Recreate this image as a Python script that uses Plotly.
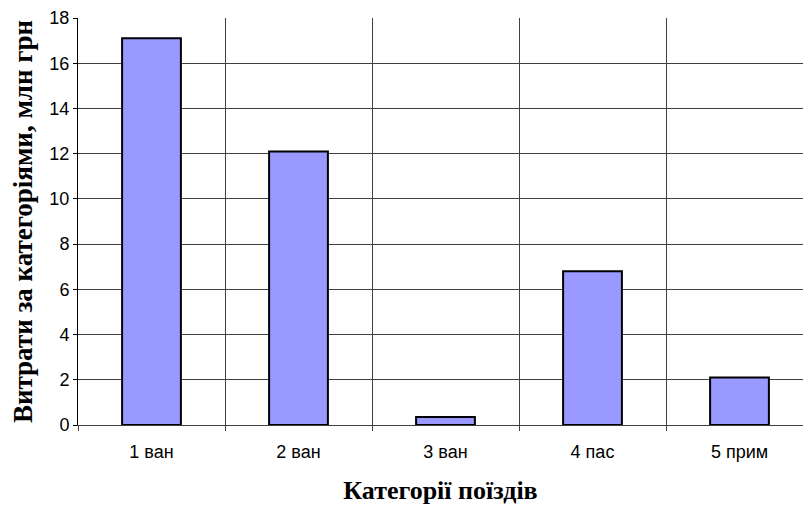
import plotly.graph_objects as go

# Витрати за категоріями поїздів, млн грн
categories = ["1 ван", "2 ван", "3 ван", "4 пас", "5 прим"]
costs = [17.1, 12.1, 0.35, 6.8, 2.1]
y_ticks = [0, 2, 4, 6, 8, 10, 12, 14, 16, 18]

fig = go.Figure(
    go.Bar(
        x=categories,
        y=costs,
        width=0.4,
        marker=dict(color="#9999FF", line=dict(color="#000000", width=2)),
    )
)

grid = "#404040"
serif = "Liberation Serif, Times New Roman, serif"
fig.update_layout(
    width=803,
    height=508,
    margin=dict(l=78, r=0, t=18, b=83),
    paper_bgcolor="white",
    plot_bgcolor="white",
    showlegend=False,
    font=dict(family="Liberation Sans, Arial, sans-serif", size=18, color="#000000"),
)

fig.update_xaxes(
    type="category",
    range=[-0.5, 4.432],
    tickson="boundaries",
    showgrid=True,
    gridcolor=grid,
    gridwidth=1,
    ticks="outside",
    ticklen=5,
    tickcolor=grid,
    showline=True,
    linecolor=grid,
    linewidth=1,
    ticklabelstandoff=10,
    tickfont=dict(size=18),
    title=dict(
        text="<b>Категорії поїздів</b>",
        font=dict(family=serif, size=26, color="#000000"),
        standoff=20,
    ),
)

fig.update_yaxes(
    range=[0, 18],
    tickvals=y_ticks,
    showgrid=True,
    gridcolor=grid,
    gridwidth=1,
    zeroline=False,
    ticks="outside",
    ticklen=4,
    tickcolor="#000000",
    showline=True,
    linecolor="#000000",
    linewidth=1,
    tickfont=dict(size=18),
    title=dict(
        text="<b>Витрати за категоріями, млн грн</b>",
        font=dict(family=serif, size=27, color="#000000"),
        standoff=8,
    ),
)

fig.write_html("out.html")
